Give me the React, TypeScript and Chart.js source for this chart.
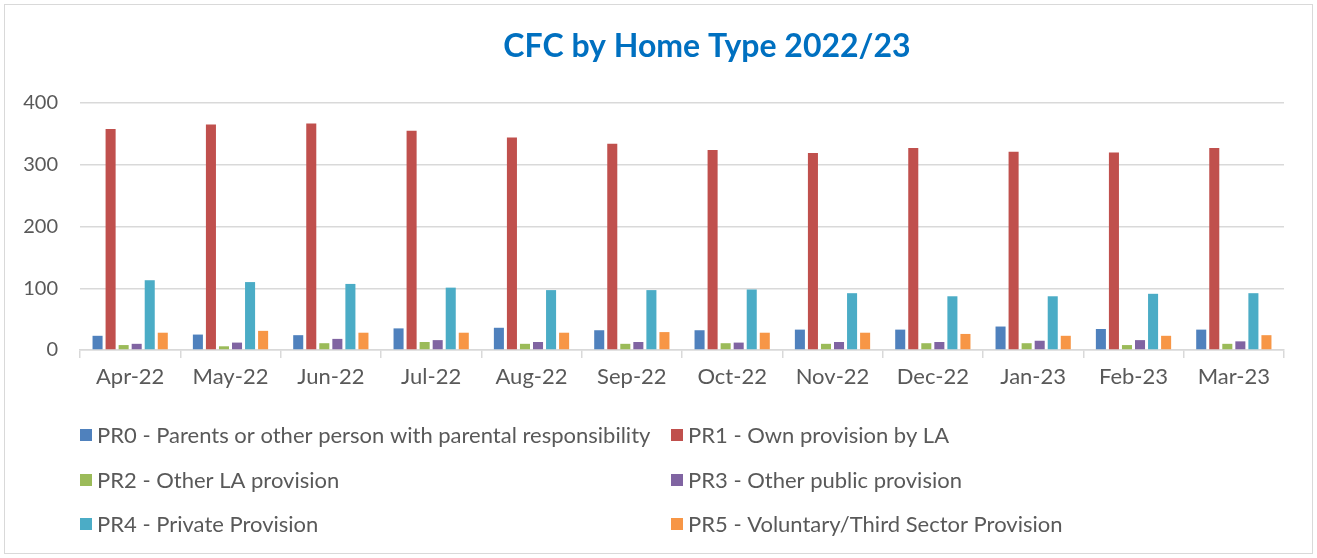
import React, { useEffect, useRef } from "react";
import { Chart, registerables } from "chart.js";

Chart.register(...registerables);

const months = ["Apr-22", "May-22", "Jun-22", "Jul-22", "Aug-22", "Sep-22", "Oct-22", "Nov-22", "Dec-22", "Jan-23", "Feb-23", "Mar-23"];
const seriesNames = [
  "PR0 - Parents or other person with parental responsibility",
  "PR1 - Own provision by LA",
  "PR2 - Other LA provision",
  "PR3 - Other public provision",
  "PR4 - Private Provision",
  "PR5 - Voluntary/Third Sector Provision",
];
const pr0 = [23, 25, 24, 35, 36, 32, 32, 33, 33, 38, 34, 33];
const pr1 = [358, 365, 367, 355, 344, 334, 324, 319, 327, 321, 320, 327];
const pr2 = [8, 6, 11, 13, 10, 10, 11, 10, 11, 11, 8, 10];
const pr3 = [10, 12, 18, 16, 13, 13, 12, 13, 13, 15, 16, 14];
const pr4 = [113, 110, 107, 101, 97, 97, 98, 92, 87, 87, 91, 92];
const pr5 = [28, 31, 28, 28, 28, 29, 28, 28, 26, 23, 23, 24];
const seriesValues = [pr0, pr1, pr2, pr3, pr4, pr5];
const seriesColors = ["#4F81BD", "#C0504D", "#9BBB59", "#8064A2", "#4BACC6", "#F79646"];
const yTicks = [0, 100, 200, 300, 400];
const titleText = "CFC by Home Type 2022/23";

const FONT = "Lato, Carlito, Calibri, sans-serif";
const TEXT = "#595959";

const titleLegendPlugin = {
  id: "titleAndGridLegend",
  afterDraw(chart: any) {
    const ctx = chart.ctx;
    ctx.save();
    // title
    ctx.font = `bold 32px ${FONT}`;
    ctx.fillStyle = "#0070C0";
    ctx.textAlign = "center";
    ctx.textBaseline = "middle";
    ctx.fillText(titleText, 707, 47);
    // legend
    const colX = [80, 671];
    const rowY = [435, 480, 524];
    ctx.font = `22px ${FONT}`;
    ctx.textAlign = "left";
    chart.data.datasets.forEach((ds: any, i: number) => {
      const x = colX[i % 2];
      const y = rowY[Math.floor(i / 2)];
      ctx.fillStyle = ds.backgroundColor;
      ctx.fillRect(x, y - 6, 12, 12);
      ctx.fillStyle = TEXT;
      ctx.fillText(ds.label, x + 17, y + 1);
    });
    ctx.restore();
  },
};

export default function App() {
  const ref = useRef<HTMLCanvasElement>(null);
  useEffect(() => {
    if (!ref.current) return;
    const chart = new Chart(ref.current, {
      type: "bar",
      data: {
        labels: months,
        datasets: seriesNames.map((name, i) => ({
          label: name,
          data: seriesValues[i],
          backgroundColor: seriesColors[i],
          borderWidth: 0,
          categoryPercentage: 0.78,
          barPercentage: 0.77,
        })),
      },
      options: {
        animation: false,
        responsive: false,
        maintainAspectRatio: false,
        layout: { padding: { left: 20, right: 33, top: 103, bottom: 148 } },
        plugins: {
          legend: { display: false },
          tooltip: { enabled: false },
          title: { display: false },
        },
        scales: {
          x: {
            grid: { display: true, drawOnChartArea: false, drawTicks: true, tickLength: 8, color: "#D9D9D9", lineWidth: 1.5, offset: true },
            border: { display: true, color: "#D9D9D9", width: 1.5 },
            ticks: { color: TEXT, font: { family: FONT, size: 22 }, padding: 6, maxRotation: 0 },
            afterFit: (s: any) => { s.height = 60; },
          },
          y: {
            min: 0,
            max: 400,
            afterBuildTicks: (s: any) => { s.ticks = yTicks.map((v) => ({ value: v })); },
            grid: { color: "#D9D9D9", lineWidth: 1.5, drawTicks: false },
            border: { display: false },
            ticks: { color: TEXT, font: { family: FONT, size: 20 }, padding: 22 },
            afterFit: (s: any) => { s.width = 60; },
          },
        },
      },
      plugins: [titleLegendPlugin],
    });
    return () => chart.destroy();
  }, []);
  return (
    <div style={{ position: "fixed", left: 0, top: 0, width: 1317, height: 558, background: "#fff" }}>
      <div style={{ position: "absolute", left: 4, top: 4, width: 1309, height: 550, border: "1px solid #D9D9D9", boxSizing: "border-box" }} />
      <canvas ref={ref} width={1317} height={558} style={{ position: "absolute", left: 0, top: 0 }} />
    </div>
  );
}
